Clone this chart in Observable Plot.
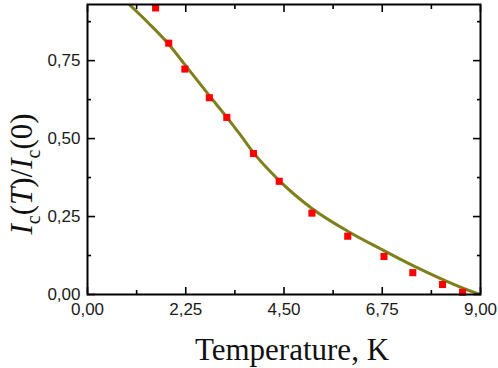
<!DOCTYPE html>
<html><head><meta charset="utf-8">
<script src="https://cdn.jsdelivr.net/npm/d3@7"></script>
<script src="https://cdn.jsdelivr.net/npm/@observablehq/plot@0.6"></script>
<style>body{margin:0;background:#fff}</style>
</head><body><div id="chart"></div>
<script>
// measured points
const measT = [1.56, 1.86, 2.23, 2.79, 3.19, 3.80, 4.39, 5.14, 5.96, 6.79, 7.45, 8.13, 8.59];
const measI = [0.919, 0.806, 0.723, 0.631, 0.568, 0.452, 0.363, 0.261, 0.187, 0.122, 0.070, 0.032, 0.007];
// fitted curve
const fitT = [0.95, 1.40, 1.83, 2.23, 2.80, 3.21, 3.51, 3.80, 4.38, 5.14, 5.96, 6.73, 7.49, 8.10, 8.64, 9.00];
const fitI = [0.931, 0.870, 0.807, 0.737, 0.636, 0.565, 0.510, 0.455, 0.367, 0.276, 0.203, 0.145, 0.090, 0.050, 0.018, 0.000];
// ticks
const xMajor = [0, 2.25, 4.5, 6.75, 9];
const xMinor = [1.125, 3.375, 5.625, 7.875];
const yMajor = [0, 0.25, 0.5, 0.75];
const yMinor = [0.125, 0.375, 0.625, 0.875];
const xTitle = "Temperature, K";

const fmt = d => d.toFixed(2).replace(".", ",");
const none = () => "";
const meas = measT.map((t, i) => ({t, v: measI[i]}));
const fit = fitT.map((t, i) => ({t, v: fitI[i]}));

const tickStyle = {label: null, tickFormat: none, stroke: "black", strokeWidth: 1.6};
const plot = Plot.plot({
  width: 498, height: 368,
  marginLeft: 87, marginRight: 18, marginTop: 4, marginBottom: 74,
  x: {domain: [0, 9]},
  y: {domain: [0, 0.93]},
  style: {fontFamily: "'Liberation Sans', Arial, sans-serif", fontSize: "17px", color: "#1a1a1a", background: "white"},
  marks: [
    Plot.line(fit, {x: "t", y: "v", stroke: "#7f7f1c", strokeWidth: 3, curve: "monotone-x", clip: true}),
    Plot.dot(meas, {x: "t", y: "v", symbol: "square", r: 4, fill: "#ff0000"}),
    Plot.axisX(xMajor, {anchor: "bottom", tickSize: 0, tickPadding: 8, tickFormat: fmt, label: null}),
    Plot.axisY(yMajor, {anchor: "left", tickSize: 0, tickPadding: 7, tickFormat: fmt, label: null}),
    Plot.axisX(xMajor, {anchor: "bottom", tickSize: 7, dy: -7, ...tickStyle}),
    Plot.axisX(xMinor, {anchor: "bottom", tickSize: 4, dy: -4, ...tickStyle}),
    Plot.axisX(xMajor, {anchor: "top", tickSize: 7, dy: 7, ...tickStyle}),
    Plot.axisX(xMinor, {anchor: "top", tickSize: 4, dy: 4, ...tickStyle}),
    Plot.axisY(yMajor, {anchor: "left", tickSize: 8, dx: 8, ...tickStyle}),
    Plot.axisY(yMinor, {anchor: "left", tickSize: 4, dx: 4, ...tickStyle}),
    Plot.axisY(yMajor, {anchor: "right", tickSize: 8, dx: -8, ...tickStyle}),
    Plot.axisY(yMinor, {anchor: "right", tickSize: 4, dx: -4, ...tickStyle}),
    Plot.frame({stroke: "black", strokeWidth: 2})
  ]
});
document.getElementById("chart").appendChild(plot);

const svg = d3.select(plot);
svg.append("text")
  .attr("x", 292).attr("y", 360)
  .attr("text-anchor", "middle")
  .attr("fill", "#111")
  .style("font-family", "'Liberation Serif', 'Times New Roman', serif")
  .style("font-size", "31px")
  .text(xTitle);

const yl = svg.append("text")
  .attr("transform", "translate(32,174) rotate(-90)")
  .attr("text-anchor", "middle")
  .attr("fill", "#111")
  .style("font-family", "'Liberation Serif', 'Times New Roman', serif")
  .style("font-size", "31px");
yl.append("tspan").style("font-style", "italic").text("I");
yl.append("tspan").style("font-size", "20px").attr("dy", 8).text("c");
yl.append("tspan").attr("dy", -8).text("(");
yl.append("tspan").style("font-style", "italic").text("T");
yl.append("tspan").text(")/");
yl.append("tspan").style("font-style", "italic").text("I");
yl.append("tspan").style("font-size", "20px").attr("dy", 8).text("c");
yl.append("tspan").attr("dy", -8).text("(0)");
</script>
</body></html>
